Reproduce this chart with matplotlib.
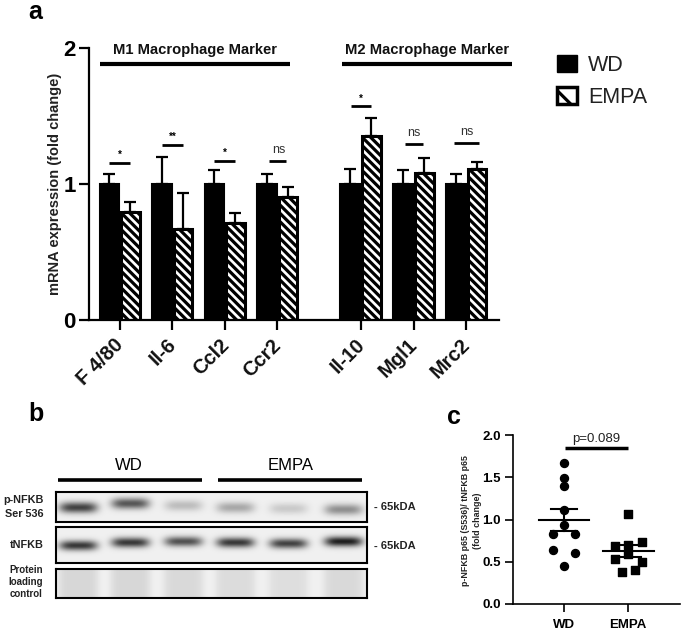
import numpy as np
import matplotlib
matplotlib.use('Agg')
import matplotlib.pyplot as plt
from matplotlib.patches import Patch
from matplotlib.transforms import ScaledTranslation

W, H = 685, 632
plt.rcParams['font.family'] = ['Liberation Sans', 'DejaVu Sans']
plt.rcParams['hatch.linewidth'] = 2.3

# panel a
genes = ['F 4/80', 'Il-6', 'Ccl2', 'Ccr2', 'Il-10', 'Mgl1', 'Mrc2']
gene_pos = [0, 1, 2, 3, 4.59, 5.6, 6.6]
wd_mean = [1, 1, 1, 1, 1, 1, 1]
wd_err = [0.07, 0.20, 0.10, 0.075, 0.11, 0.10, 0.07]
empa_mean = [0.79, 0.67, 0.715, 0.905, 1.35, 1.08, 1.105]
empa_err = [0.075, 0.26, 0.07, 0.07, 0.13, 0.11, 0.055]
sig_labels = ['*', '**', '*', 'ns', '*', 'ns', 'ns']
sig_height = [1.155, 1.285, 1.17, 1.17, 1.57, 1.295, 1.30]
sig_halfwidth = [0.2, 0.2, 0.2, 0.165, 0.19, 0.18, 0.24]

# panel b
lanes_px = [78, 130, 183, 235, 288, 343]
p_band_y = [507, 503, 505, 507, 508, 509]
p_band_dark = [0.68, 0.60, 0.20, 0.28, 0.15, 0.38]
t_band_y = [545, 542, 541, 542, 543, 541]
t_band_dark = [0.72, 0.72, 0.62, 0.72, 0.68, 0.82]
load_dark = [0.10, 0.10, 0.09, 0.08, 0.07, 0.09]

# panel c
wd_x = [0, 0, 0, 0, 0, -0.17, 0.17, -0.17, 0.17, 0]
wd_vals = [1.67, 1.49, 1.40, 1.12, 0.94, 0.83, 0.83, 0.64, 0.61, 0.45]
empa_x = [0, 0.21, -0.21, 0, 0, -0.21, 0.21, -0.105, 0.105]
empa_vals = [1.07, 0.74, 0.69, 0.70, 0.59, 0.53, 0.50, 0.38, 0.40]
group_mean = [1.0, 0.63]
group_sem = [0.13, 0.07]


def px_axes(left, top, right, bottom, **kw):
    return fig.add_axes([left / W, 1 - bottom / H, (right - left) / W,
                         (bottom - top) / H], **kw)


def px_text(x, y, s, **kw):
    fig.text(x / W, 1 - y / H, s, **kw)


def px_line(x0, x1, y, lw=2.8):
    fig.add_artist(plt.Line2D([x0 / W, x1 / W], [1 - y / H, 1 - y / H],
                              color='black', lw=lw, solid_capstyle='butt'))


fig = plt.figure(figsize=(W / 100, H / 100), dpi=100)

px_text(28, 12, 'a', fontsize=18, fontweight='bold', va='center')
px_text(28, 414, 'b', fontsize=18, fontweight='bold', va='center')
px_text(447, 417, 'c', fontsize=18, fontweight='bold', va='center')

# bars
ax = px_axes(88.5, 47.5, 499, 320)
pos = np.array(gene_pos)
ax.bar(pos - 0.2, wd_mean, 0.38, color='black', edgecolor='black', lw=1.5,
       label='WD')
ax.bar(pos + 0.2, empa_mean, 0.36, color='white', edgecolor='black', lw=2.2,
       hatch='\\\\\\\\')
ax.errorbar(pos - 0.2, wd_mean, yerr=[np.zeros(7), wd_err], fmt='none',
            ecolor='black', elinewidth=1.6, capsize=4, capthick=1.6)
ax.errorbar(pos + 0.2, empa_mean, yerr=[np.zeros(7), empa_err], fmt='none',
            ecolor='black', elinewidth=1.6, capsize=4, capthick=1.6)
for x, lab, h, hw in zip(pos, sig_labels, sig_height, sig_halfwidth):
    ax.plot([x - hw, x + hw], [h, h], color='black', lw=2,
            solid_capstyle='butt')
    if lab == 'ns':
        ax.text(x + (0.03 if x < 4 else 0), h + 0.035, lab, ha='center',
                va='bottom', fontsize=9, color='#333333')
    else:
        ax.text(x, h + 0.02, lab, ha='center', va='bottom', fontsize=7,
                fontweight='bold')
ax.set_xlim(-0.6, 7.22)
ax.set_ylim(0, 2)
ax.set_yticks([0, 1, 2])
ax.set_xticks(pos)
ax.set_xticklabels(genes, rotation=45, ha='right', rotation_mode='anchor',
                   fontsize=14.5, fontweight='bold', color='#111111')
ax.tick_params(axis='y', length=7, width=1.6, labelsize=16, pad=2)
ax.tick_params(axis='x', length=7, width=1.6, pad=4)
# tick_params resets label transforms, so shift the labels after it
shift = ScaledTranslation(-6 / 100, 0, fig.dpi_scale_trans)
for t in ax.get_xticklabels():
    t.set_transform(t.get_transform() + shift)
for t in ax.get_yticklabels():
    t.set_fontweight('bold')
ax.spines[['top', 'right']].set_visible(False)
ax.spines[['left', 'bottom']].set_linewidth(1.6)
ax.set_ylabel('mRNA expression (fold change)', fontsize=10.5,
              fontweight='bold', color='#222222', labelpad=1)

px_line(100, 290, 64, lw=3)
px_line(342, 512, 64, lw=3)
px_text(195, 50, 'M1 Macrophage Marker', fontsize=10.6, fontweight='bold',
        ha='center', va='center', color='#111111')
px_text(427, 50, 'M2 Macrophage Marker', fontsize=10.6, fontweight='bold',
        ha='center', va='center', color='#111111')

handles = [Patch(facecolor='black', edgecolor='black', label='WD'),
           Patch(facecolor='white', edgecolor='black', lw=2.5, hatch='\\',
                 label='EMPA')]
fig.legend(handles=handles, loc='upper left',
           bbox_to_anchor=(557 / W, 1 - 55 / H), frameon=False, fontsize=15.5,
           handlelength=0.93, handleheight=0.85, handletextpad=0.5,
           labelspacing=0.52, borderpad=0, borderaxespad=0,
           labelcolor='#222222')

# blots
def blot(top, bottom, band_y, band_dark, band_h):
    h, w = bottom - top, 311
    yy, xx = np.mgrid[top:bottom, 56:367]
    img = np.full((h, w), 0.94)
    for cx, cy, d in zip(lanes_px, band_y, band_dark):
        img -= d * np.exp(-((xx - cx) / 19.0) ** 4
                          - ((yy - cy) / band_h) ** 2)
    b = px_axes(56, top, 367, bottom)
    b.imshow(np.clip(img, 0, 1), cmap='gray', vmin=0, vmax=1, aspect='auto',
             interpolation='bilinear')
    b.set_xticks([])
    b.set_yticks([])
    for s in b.spines.values():
        s.set_linewidth(1.5)
    return b


blot(492, 522, p_band_y, p_band_dark, 5.5)
blot(527, 563, t_band_y, t_band_dark, 5.0)

lb = px_axes(56, 569, 367, 598)
yy, xx = np.mgrid[569:598, 56:367]
img = np.full((29, 311), 0.94)
for cx, d in zip(lanes_px, load_dark):
    img -= d * np.exp(-((xx - cx) / 20.0) ** 6)
lb.imshow(img, cmap='gray', vmin=0, vmax=1, aspect='auto',
          interpolation='bilinear')
lb.set_xticks([])
lb.set_yticks([])
for s in lb.spines.values():
    s.set_linewidth(1.5)

px_line(58, 202, 480, lw=2.6)
px_line(218, 362, 480, lw=2.6)
px_text(129, 465, 'WD', fontsize=12, ha='center', va='center')
px_text(291, 465, 'EMPA', fontsize=12, ha='center', va='center')

for y, s in [(500, 'p-NFKB'), (514, 'Ser 536'), (545, 'tNFKB')]:
    px_text(44, y, s, fontsize=7.8, fontweight='bold', ha='right', va='center',
            color='#222222')
for y, s in [(570, 'Protein'), (582, 'loading'), (594, 'control')]:
    px_text(43, y, s, fontsize=7, fontweight='bold', ha='right', va='center',
            color='#222222')
px_text(374, 507, '- 65kDA', fontsize=8, fontweight='bold', va='center',
        color='#222222')
px_text(374, 546, '- 65kDA', fontsize=8, fontweight='bold', va='center',
        color='#222222')

# scatter
ac = px_axes(512.7, 435.3, 680, 604)
ac.scatter(1 + np.array(wd_x), wd_vals, s=33, color='black', marker='o',
           clip_on=False, zorder=3)
ac.scatter(2 + np.array(empa_x), empa_vals, s=29, color='black', marker='s',
           clip_on=False, zorder=3)
for x, m, e in zip([1, 2], group_mean, group_sem):
    ac.plot([x - 0.395, x + 0.395], [m, m], color='black', lw=1.5)
    ac.plot([x - 0.195, x + 0.195], [m + e, m + e], color='black', lw=1.5)
    ac.plot([x - 0.195, x + 0.195], [m - e, m - e], color='black', lw=1.5)
    ac.plot([x, x], [m - e, m + e], color='black', lw=1.5)
ac.plot([1.02, 2.0], [1.85, 1.85], color='black', lw=2.5,
        solid_capstyle='butt')
ac.text(1.5, 1.88, 'p=0.089', ha='center', va='bottom', fontsize=9.5,
        color='#222222')
ac.set_xlim((512.7 - 564) / 64.3 + 1, (680 - 564) / 64.3 + 1)
ac.set_ylim(0, 2)
ac.set_yticks([0, 0.5, 1, 1.5, 2])
ac.set_yticklabels(['0.0', '0.5', '1.0', '1.5', '2.0'], fontsize=9.5,
                   fontweight='bold')
ac.set_xticks([1, 2])
ac.set_xticklabels(['WD', 'EMPA'], fontsize=9.5, fontweight='bold')
ac.tick_params(length=5.5, width=1.2, pad=3)
ac.tick_params(axis='x', pad=5)
ac.spines[['top', 'right']].set_visible(False)
ac.spines[['left', 'bottom']].set_linewidth(1.2)
px_text(471.5, 521, 'p-NFKB p65 (S536)/ tNFKB p65\n(fold change)', fontsize=6.4,
        fontweight='bold', rotation=90, ha='center', va='center',
        color='#222222', linespacing=1.45)

fig.savefig('out.png', dpi=100)
